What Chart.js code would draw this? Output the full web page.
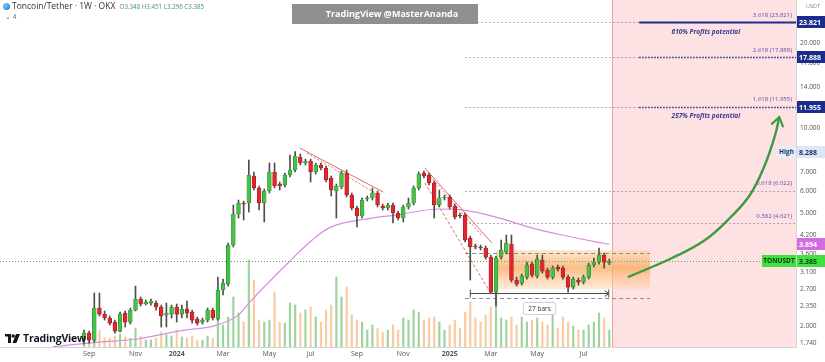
<!DOCTYPE html>
<html>
<head>
<meta charset="utf-8">
<script src="https://cdn.jsdelivr.net/npm/chart.js@4.4.1/dist/chart.umd.min.js"></script>
<style>
  body { margin: 0; background: #fff; }
  #wrap { position: relative; width: 825px; height: 362px; overflow: hidden; font-family: 'Open Sans', sans-serif; }
  #chart { position: absolute; left: 0; top: 0; }
  .abs { position: absolute; white-space: nowrap; }
  #title { left: 3px; top: 0px; font-size: 8.5px; color: #333; }
  #title .ohlc { color: #2e9d58; font-size: 6.2px; margin-left: 2px; }
  #title .ohlc i { color: #777; font-style: normal; }
  #icon { display: inline-block; width: 7px; height: 7px; border-radius: 50%; background: radial-gradient(circle at 35% 35%, #7ec3ff, #1f6fd6); vertical-align: -1px; margin-right: 2px; }
  #sub { left: 5px; top: 12px; font-size: 6.5px; color: #666; }
  #banner { left: 292px; top: 4px; width: 186px; height: 20px; background: #8f8f8f; color: #fff; font-weight: 700; font-size: 9px; line-height: 20px; text-align: center; padding-left: 14px; box-sizing: border-box; }
  #usdt { left: 806px; top: 2px; font-size: 5.5px; color: #888; }
  #logo { left: 5px; top: 331px; font-size: 10.5px; font-weight: 700; color: #131722; letter-spacing: -0.2px; }
  #logo svg { vertical-align: -1px; margin-right: 3px; }
</style>
</head>
<body>
<div id="wrap">
  <canvas id="chart" width="825" height="362"></canvas>
  <div id="title" class="abs"><span id="icon"></span>Toncoin/Tether · 1W · OKX <span class="ohlc"><i>O</i>3.348 <i>H</i>3.451 <i>L</i>3.296 <i>C</i>3.385</span></div>
  <div id="sub" class="abs">⌄ 4</div>
  <div id="banner" class="abs">TradingView @MasterAnanda</div>
  <div id="usdt" class="abs">USDT</div>
  <div id="logo" class="abs"><svg width="15" height="9" viewBox="0 0 15 9"><path d="M0 0h6v9H3V2.5H0z" fill="#131722"/><circle cx="8.2" cy="2" r="1.7" fill="#131722"/><path d="M11 0h4l-3.6 9H7.5z" fill="#131722"/></svg>TradingView</div>
</div>
<script>
// weekly candles, index 0 = week of 28 Aug 2023
const opens = [1.784,1.889,1.784,2.316,2.205,2.135,2.066,1.920,2.223,2.066,
  2.278,2.492,2.393,2.412,2.412,2.335,2.187,2.205,2.335,2.205,
  2.297,2.241,2.117,2.066,2.100,2.278,2.117,2.682,2.816,3.870,
  4.982,5.449,5.449,6.791,6.159,5.449,6.010,7.016,6.363,6.311,
  6.847,7.131,7.928,7.549,7.673,7.016,7.428,7.249,6.681,6.010,
  6.209,6.959,5.818,5.232,4.902,5.631,5.677,5.913,5.318,5.232,
  5.361,5.023,4.823,5.275,5.449,6.159,6.959,6.847,6.415,5.361,
  5.677,5.724,5.318,4.942,4.942,4.097,3.839,3.808,3.777,3.509,
  2.638,3.509,3.655,3.902,2.909,2.839,2.981,3.314,3.005,3.424,
  3.156,2.981,3.235,3.208,2.981,2.748,2.909,2.862,2.981,3.288,
  3.369,3.567,3.348];
const highs = [1.936,1.920,2.617,2.617,2.260,2.170,2.100,2.241,2.260,2.316,
  2.770,2.533,2.472,2.492,2.452,2.373,2.412,2.373,2.393,2.373,
  2.452,2.278,2.152,2.135,2.316,2.316,2.981,2.933,3.934,5.361,
  5.584,5.539,7.736,7.016,6.260,6.109,7.549,7.549,6.467,6.959,
  8.058,8.288,8.124,7.800,7.800,7.549,7.549,7.368,6.791,6.363,
  7.073,7.131,5.913,5.318,5.677,5.771,6.159,6.010,5.405,5.449,
  5.449,5.105,5.361,5.677,6.260,7.016,7.073,6.959,6.520,6.059,
  5.818,5.818,5.405,5.023,5.023,4.165,3.902,3.870,3.839,3.567,
  3.538,4.031,4.199,4.199,2.981,3.055,3.369,3.369,3.567,3.567,
  3.208,3.261,3.288,3.261,3.030,2.981,2.957,3.030,3.341,3.481,
  3.777,3.625,3.451];
const lows = [1.727,1.741,1.755,2.170,2.100,2.016,1.889,1.905,1.984,2.033,
  2.260,2.354,2.373,2.373,2.278,1.984,1.984,2.135,2.066,2.135,
  2.135,2.049,2.016,2.033,2.066,2.100,2.100,2.575,2.770,3.808,
  4.823,4.744,5.064,6.059,5.147,4.668,5.913,6.159,6.059,6.209,
  6.736,7.016,7.428,7.428,6.467,6.903,7.131,6.467,5.771,4.823,
  6.109,5.724,5.147,4.481,4.823,5.539,5.584,5.275,5.147,5.147,
  4.630,4.744,4.668,5.190,5.361,6.059,6.681,6.311,4.823,5.275,
  5.584,5.190,4.784,4.823,3.966,2.909,3.746,3.715,3.452,2.617,
  2.354,3.452,3.596,2.862,2.770,2.793,2.933,2.981,2.957,3.080,
  2.933,2.933,3.130,2.933,2.638,2.703,2.793,2.816,2.933,3.235,
  3.314,3.208,3.296];
const closes = [1.889,1.784,2.316,2.205,2.135,2.049,1.920,2.205,2.066,2.278,
  2.492,2.393,2.432,2.452,2.335,2.170,2.223,2.335,2.205,2.297,
  2.223,2.100,2.049,2.100,2.278,2.135,2.682,2.839,3.870,4.982,
  5.449,5.405,6.847,6.159,5.449,6.010,7.016,6.260,6.260,6.847,
  7.131,7.993,7.549,7.673,7.016,7.428,7.249,6.573,6.059,6.260,
  6.959,5.818,5.232,4.902,5.584,5.677,5.913,5.361,5.232,5.361,
  5.023,4.823,5.275,5.449,6.159,6.903,6.791,6.415,5.361,5.677,
  5.724,5.275,4.862,4.902,4.031,3.808,3.808,3.777,3.509,2.638,
  3.481,3.715,3.934,2.909,2.816,3.005,3.288,3.030,3.452,3.130,
  2.981,3.208,3.182,2.981,2.748,2.933,2.862,2.981,3.288,3.369,
  3.567,3.369,3.385];
// volume, arbitrary units (no axis shown)
const volumes = [12,9,27,17,9,9,11,13,10,9,
  19,11,7,7,9,15,12,11,17,10,
  9,11,7,7,11,9,27,22,30,50,
  34,25,87,67,27,25,27,55,25,24,
  44,42,34,37,40,30,25,37,42,70,
  50,60,32,27,25,17,22,19,15,17,
  22,17,29,27,37,35,27,29,30,25,
  17,22,27,19,35,45,29,25,32,40,
  55,29,27,30,22,30,25,27,29,25,
  22,45,19,30,25,21,17,17,22,25,
  34,29,17];

// long moving average
const maWeeks = [-6, 3, 10.5, 18.4, 26, 30, 32, 39.8, 44.3, 47.6, 55.9, 60.6, 68.9, 73.4, 80, 86.4, 92.8, 99.4, 102];
const maValues = [1.69, 1.755, 1.80, 1.92, 2.02, 2.19, 2.41, 3.37, 4.03, 4.45, 4.82, 4.94, 5.19, 5.15, 4.86, 4.48, 4.20, 3.97, 3.894];

// drawn trendlines [week, value] pairs
const trendLines = [
  { weeks: [41.9, 58.1], values: [8.53, 5.96], dash: [] },
  { weeks: [43.3, 56.9], values: [8.19, 5.865], dash: [2, 2] },
  { weeks: [66.2, 79.2], values: [7.249, 3.934], dash: [] },
  { weeks: [67.2, 77.3], values: [6.791, 4.165], dash: [2, 2] },
  { weeks: [66.2, 78.6], values: [6.415, 2.682], dash: [3, 2] }
];

// projection arrow
const arrowWeeks = [105.6, 114.2, 120.6, 125.4, 129.3, 132.2, 134.2, 135.0];
const arrowValues = [2.981, 3.481, 4.031, 4.823, 5.818, 7.428, 9.485, 10.98];

// fib extension levels
const fibRatios = ['3.618', '2.618', '1.618', '0.618', '0.382'];
const fibLevels = [23.821, 17.888, 11.955, 6.022, 4.621];
const fibStartWeek = 74;
const fibTargetWeek = 107.8;
const profitTexts = ['610% Profits potential', '257% Profits potential'];
const profitLevels = [23.821, 11.955];

const futureStartWeek = 102.5;
const boxWeeks = [80, 109.9];
const boxValues = [3.715, 2.703];
const rangeTop = 3.625, rangeBottom = 2.513;
const measureWeeks = [75, 101.9];
const measureValue = 2.617;
const measureLabel = '27 bars';

const lastPrice = 3.385, maLast = 3.894, highPrice = 8.288;

const xTickWeeks = [1, 10, 18, 27, 36, 44, 53, 62, 71, 79, 88, 97];
const xTickLabels = ['Sep', 'Nov', '2024', 'Mar', 'May', 'Jul', 'Sep', 'Nov', '2025', 'Mar', 'May', 'Jul'];
const yTickValues = [1.74, 2.0, 2.35, 2.7, 3.1, 3.6, 4.2, 5.0, 6.0, 7.0, 8.0, 10.0, 14.0, 17.0, 20.0];

const upBody = '#45c245', upBorder = '#2b7f2b', downBody = '#e3262d', downBorder = '#8f1b1b';
const isUp = i => closes[i] >= opens[i];

const overlay = {
  id: 'overlay',
  beforeDatasetsDraw(chart) {
    const { ctx, chartArea: a } = chart;
    const X = v => chart.scales.x.getPixelForValue(v);
    const Y = v => chart.scales.y.getPixelForValue(v);
    ctx.save();
    // future zone
    const fx = Math.round(X(futureStartWeek));
    ctx.fillStyle = '#fde1e3';
    ctx.fillRect(fx, a.top, a.right - fx, a.bottom - a.top);
    ctx.strokeStyle = '#e3a0aa';
    ctx.lineWidth = 1;
    ctx.beginPath(); ctx.moveTo(fx + 0.5, a.top); ctx.lineTo(fx + 0.5, a.bottom); ctx.stroke();

    // consolidation box
    const bx0 = X(boxWeeks[0]), bx1 = X(boxWeeks[1]);
    const by0 = Y(boxValues[0]), by1 = Y(boxValues[1]);
    const g = ctx.createLinearGradient(0, by0, 0, by1);
    g.addColorStop(0, 'rgba(255,210,165,0.55)');
    g.addColorStop(0.45, 'rgba(250,168,92,0.75)');
    g.addColorStop(1, 'rgba(255,215,175,0.5)');
    ctx.fillStyle = g;
    ctx.fillRect(bx0, by0, bx1 - bx0, by1 - by0);

    // range dashed lines
    ctx.strokeStyle = '#8a8a8a';
    ctx.setLineDash([4, 3]);
    [rangeTop, rangeBottom].forEach(v => {
      const y = Math.round(Y(v)) + 0.5;
      ctx.beginPath(); ctx.moveTo(X(fibStartWeek), y); ctx.lineTo(X(boxWeeks[1]), y); ctx.stroke();
    });

    // fib levels
    fibLevels.forEach((lv, i) => {
      const y = Math.round(Y(lv)) + 0.5;
      ctx.lineWidth = 1;
      ctx.strokeStyle = 'rgba(150,130,170,0.7)';
      ctx.setLineDash([2, 2]);
      ctx.beginPath();
      ctx.moveTo(X(fibStartWeek), y);
      ctx.lineTo(i < 3 ? X(fibTargetWeek) : a.right, y);
      ctx.stroke();
      if (i < 3) {
        ctx.strokeStyle = '#1f2f8f';
        if (i === 0) { ctx.setLineDash([]); ctx.lineWidth = 2; }
        else { ctx.setLineDash([1.5, 1.5]); ctx.lineWidth = 1.5; }
        ctx.beginPath(); ctx.moveTo(X(fibTargetWeek), y); ctx.lineTo(a.right, y); ctx.stroke();
      }
    });

    // last price line
    ctx.setLineDash([1, 2]);
    ctx.lineWidth = 1;
    ctx.strokeStyle = '#4caf50';
    const ly = Math.round(Y(lastPrice)) + 0.5;
    ctx.beginPath(); ctx.moveTo(a.left, ly); ctx.lineTo(a.right, ly); ctx.stroke();
    ctx.restore();
  },
  afterDraw(chart) {
    const { ctx, chartArea: a } = chart;
    const X = v => chart.scales.x.getPixelForValue(v);
    const Y = v => chart.scales.y.getPixelForValue(v);
    ctx.save();
    ctx.textBaseline = 'middle';

    // fib labels
    ctx.font = '6px "Open Sans"';
    ctx.fillStyle = '#5a4fa6';
    ctx.textAlign = 'right';
    fibLevels.forEach((lv, i) => {
      ctx.fillText(fibRatios[i] + ' (' + lv.toFixed(3) + ')', a.right - 4, Y(lv) - 7);
    });

    // profit texts
    ctx.font = 'italic bold 6.5px "Open Sans"';
    ctx.fillStyle = '#34398f';
    profitTexts.forEach((t, i) => {
      ctx.fillText(t, X(127.4), Y(profitLevels[i]) + 10);
    });

    // bars measure
    const m0 = X(measureWeeks[0]), m1 = X(measureWeeks[1]);
    const my = Math.round(Y(measureValue)) + 0.5;
    ctx.strokeStyle = '#4a4a4a';
    ctx.lineWidth = 1;
    ctx.beginPath();
    ctx.moveTo(m0, my); ctx.lineTo(m1, my);
    ctx.moveTo(m0, my - 4); ctx.lineTo(m0, my + 4);
    ctx.moveTo(m1, my - 4); ctx.lineTo(m1, my + 4);
    ctx.moveTo(m1 - 4, my - 3); ctx.lineTo(m1, my); ctx.lineTo(m1 - 4, my + 3);
    ctx.stroke();
    const mx = (m0 + m1) / 2;
    ctx.font = '6.5px "Open Sans"';
    const tw = ctx.measureText(measureLabel).width + 10;
    ctx.fillStyle = '#fff';
    ctx.strokeStyle = '#d0d0d0';
    ctx.beginPath(); ctx.roundRect(mx - tw / 2, my + 9, tw, 12, 2); ctx.fill(); ctx.stroke();
    ctx.fillStyle = '#333';
    ctx.textAlign = 'center';
    ctx.fillText(measureLabel, mx, my + 15.5);

    // arrow head
    const n = arrowWeeks.length;
    const px2 = X(arrowWeeks[n - 1]), py2 = Y(arrowValues[n - 1]);
    const px1 = X(arrowWeeks[n - 2]), py1 = Y(arrowValues[n - 2]);
    const ang = Math.atan2(py2 - py1, px2 - px1);
    ctx.strokeStyle = '#3f9a3f';
    ctx.lineWidth = 2.2;
    ctx.lineCap = 'round';
    ctx.beginPath();
    ctx.moveTo(px2 - 10 * Math.cos(ang - 0.6), py2 - 10 * Math.sin(ang - 0.6));
    ctx.lineTo(px2, py2);
    ctx.lineTo(px2 - 10 * Math.cos(ang + 0.6), py2 - 10 * Math.sin(ang + 0.6));
    ctx.stroke();

    // axis price tags
    const tag = (v, txt, bg, fg) => {
      const y = Math.round(Y(v));
      ctx.fillStyle = bg;
      ctx.fillRect(a.right + 1, y - 6, 28, 12);
      ctx.fillStyle = fg;
      ctx.font = 'bold 7px "Open Sans"';
      ctx.textAlign = 'left';
      ctx.fillText(txt, a.right + 3, y + 0.5);
    };
    const sideTag = (v, txt, w, bg, fg) => {
      const y = Math.round(Y(v));
      ctx.fillStyle = bg;
      ctx.fillRect(a.right - w, y - 6, w, 12);
      ctx.fillStyle = fg;
      ctx.font = 'bold 6.5px "Open Sans"';
      ctx.textAlign = 'center';
      ctx.fillText(txt, a.right - w / 2, y + 0.5);
    };
    tag(fibLevels[0], fibLevels[0].toFixed(3), '#1c2c8e', '#fff');
    tag(fibLevels[1], fibLevels[1].toFixed(3), '#1c2c8e', '#fff');
    tag(fibLevels[2], fibLevels[2].toFixed(3), '#1c2c8e', '#fff');
    tag(highPrice, highPrice.toFixed(3), '#dde6f4', '#1d2a5a');
    sideTag(highPrice, 'High', 19, '#e6edf8', '#1d2a5a');
    tag(maLast, maLast.toFixed(3), '#d46be2', '#fff');
    tag(lastPrice, lastPrice.toFixed(3), '#3fe03f', '#0c3a0c');
    sideTag(lastPrice, 'TONUSDT', 34, '#3fe03f', '#0c3a0c');
    ctx.restore();
  }
};

const idx = opens.map((_, i) => i);
const datasets = [
  {
    type: 'bar', yAxisID: 'yVol', order: 10, grouped: false, barThickness: 1.5,
    data: idx.map(i => ({ x: i, y: volumes[i] })),
    backgroundColor: idx.map(i => isUp(i) ? 'rgba(76,175,80,0.55)' : 'rgba(245,160,85,0.55)')
  },
  {
    type: 'line', yAxisID: 'y', order: 8,
    data: maWeeks.map((w, i) => ({ x: w, y: maValues[i] })),
    borderColor: '#d98ce0', borderWidth: 1.2, pointRadius: 0, cubicInterpolationMode: 'monotone'
  }
];
trendLines.forEach(t => datasets.push({
  type: 'line', yAxisID: 'y', order: 7,
  data: t.weeks.map((w, i) => ({ x: w, y: t.values[i] })),
  borderColor: '#e26a6a', borderWidth: 1, borderDash: t.dash, pointRadius: 0
}));
datasets.push(
  {
    type: 'bar', yAxisID: 'y', order: 4, grouped: false, barThickness: 1,
    data: idx.map(i => ({ x: i, y: [lows[i], highs[i]] })),
    backgroundColor: '#4d4d4d'
  },
  {
    type: 'bar', yAxisID: 'y', order: 3, grouped: false, barThickness: 3.8, minBarLength: 1,
    data: idx.map(i => ({ x: i, y: [opens[i], closes[i]] })),
    backgroundColor: idx.map(i => isUp(i) ? upBody : downBody),
    borderColor: idx.map(i => isUp(i) ? upBorder : downBorder),
    borderWidth: 0.6, borderSkipped: false
  },
  {
    type: 'line', yAxisID: 'y', order: 1,
    data: arrowWeeks.map((w, i) => ({ x: w, y: arrowValues[i] })),
    borderColor: '#3f9a3f', borderWidth: 2.4, pointRadius: 0, tension: 0.4
  }
);

new Chart(document.getElementById('chart'), {
  type: 'bar',
  data: { datasets },
  options: {
    responsive: false,
    animation: false,
    devicePixelRatio: 1,
    layout: { padding: 0 },
    plugins: { legend: { display: false }, tooltip: { enabled: false } },
    scales: {
      x: {
        type: 'linear', min: -16.31, max: 138.25, offset: false,
        grid: { display: false, drawTicks: false, offset: false },
        border: { color: '#d6d6d6' },
        afterBuildTicks: ax => { ax.ticks = xTickWeeks.map(v => ({ value: v })); },
        afterFit: ax => { ax.height = 15; ax.paddingLeft = 0; ax.paddingRight = 0; },
        ticks: {
          autoSkip: false, maxRotation: 0, padding: 3, color: '#555',
          font: c => ({ family: 'Open Sans', size: 7, weight: /^\d{4}$/.test(xTickLabels[c.index]) ? 'bold' : 'normal' }),
          callback: v => xTickLabels[xTickWeeks.indexOf(v)]
        }
      },
      y: {
        type: 'logarithmic', position: 'right', min: 1.686, max: 28.5,
        grid: { display: false, drawTicks: false },
        border: { color: '#d6d6d6' },
        afterBuildTicks: ax => { ax.ticks = yTickValues.map(v => ({ value: v })); },
        afterFit: ax => { ax.width = 29; ax.paddingTop = 0; ax.paddingBottom = 0; },
        ticks: {
          autoSkip: false, padding: 4, color: '#555',
          font: { family: 'Open Sans', size: 6.5 },
          callback: v => Number(v).toFixed(3)
        }
      },
      yVol: { type: 'linear', display: false, min: 0, max: 347 }
    }
  },
  plugins: [overlay]
});
</script>
</body>
</html>
